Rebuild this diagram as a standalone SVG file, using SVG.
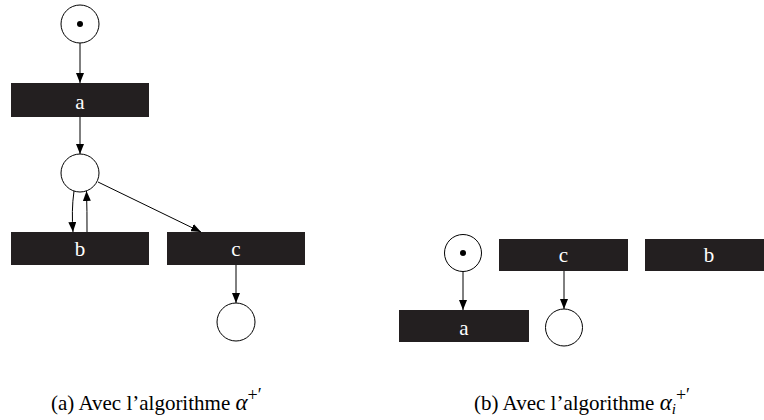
<svg xmlns="http://www.w3.org/2000/svg" width="764" height="420" viewBox="0 0 764 420">
<style>
.pl{fill:#fff;stroke:#000;stroke-width:1}
.tr{fill:#231f20}
.tl{fill:#fff;font-family:"Liberation Serif",serif;font-size:21px;text-anchor:middle}
.ed{stroke:#000;stroke-width:1;fill:none;marker-end:url(#ah)}
.cap{font-family:"Liberation Serif",serif;font-size:21px;fill:#000}
</style>
<defs>
<marker id="ah" viewBox="0 0 10 8" refX="10" refY="4" markerWidth="10" markerHeight="8" markerUnits="userSpaceOnUse" orient="auto">
<path d="M0,0 L10,4 L0,8 z" fill="#000"/>
</marker>
</defs>
<g id="p1"><circle class="pl" cx="80" cy="24" r="19"/><circle cx="80" cy="24" r="3" fill="#000"/></g>
<g id="ta"><rect class="tr" x="11" y="83" width="138" height="34"/><text class="tl" x="80" y="109">a</text></g>
<g id="p2"><circle class="pl" cx="80" cy="173" r="19"/></g>
<g id="tb"><rect class="tr" x="11" y="232" width="138" height="33"/><text class="tl" x="80" y="256">b</text></g>
<g id="tc"><rect class="tr" x="167" y="232" width="138" height="33"/><text class="tl" x="236" y="256">c</text></g>
<g id="p3"><circle class="pl" cx="236" cy="322" r="19"/></g>
<g id="q1"><circle class="pl" cx="463" cy="253" r="18.5"/><circle cx="463" cy="253" r="3" fill="#000"/></g>
<g id="uc"><rect class="tr" x="499" y="239" width="129" height="32"/><text class="tl" x="563.5" y="262">c</text></g>
<g id="ub"><rect class="tr" x="645" y="239" width="130" height="32"/><text class="tl" x="709" y="262">b</text></g>
<g id="ua"><rect class="tr" x="399" y="310" width="130" height="32"/><text class="tl" x="464" y="335">a</text></g>
<g id="q2"><circle class="pl" cx="564" cy="327.5" r="18.5"/></g>
<g id="edges">
<line class="ed" x1="80" y1="43" x2="80" y2="83"/>
<line class="ed" x1="80" y1="117" x2="80" y2="154"/>
<path class="ed" d="M74,191 C72,205 72,218 73,232"/>
<path class="ed" d="M87,232 C87,218 87,205 86.5,191"/>
<line class="ed" x1="98" y1="182" x2="201" y2="232"/>
<line class="ed" x1="236" y1="265" x2="236" y2="303"/>
<line class="ed" x1="463" y1="271.5" x2="463" y2="310"/>
<line class="ed" x1="564" y1="271" x2="564" y2="309"/>
</g>
<text class="cap" x="51" y="410">(a) Avec l’algorithme <tspan font-style="italic" font-size="23">α</tspan><tspan font-size="18" dy="-9">+′</tspan></text>
<text class="cap" x="474" y="410">(b) Avec l’algorithme <tspan font-style="italic" font-size="23">α</tspan><tspan font-style="italic" font-size="15" dy="4">i</tspan><tspan font-size="18" dy="-13">+′</tspan></text>
</svg>
